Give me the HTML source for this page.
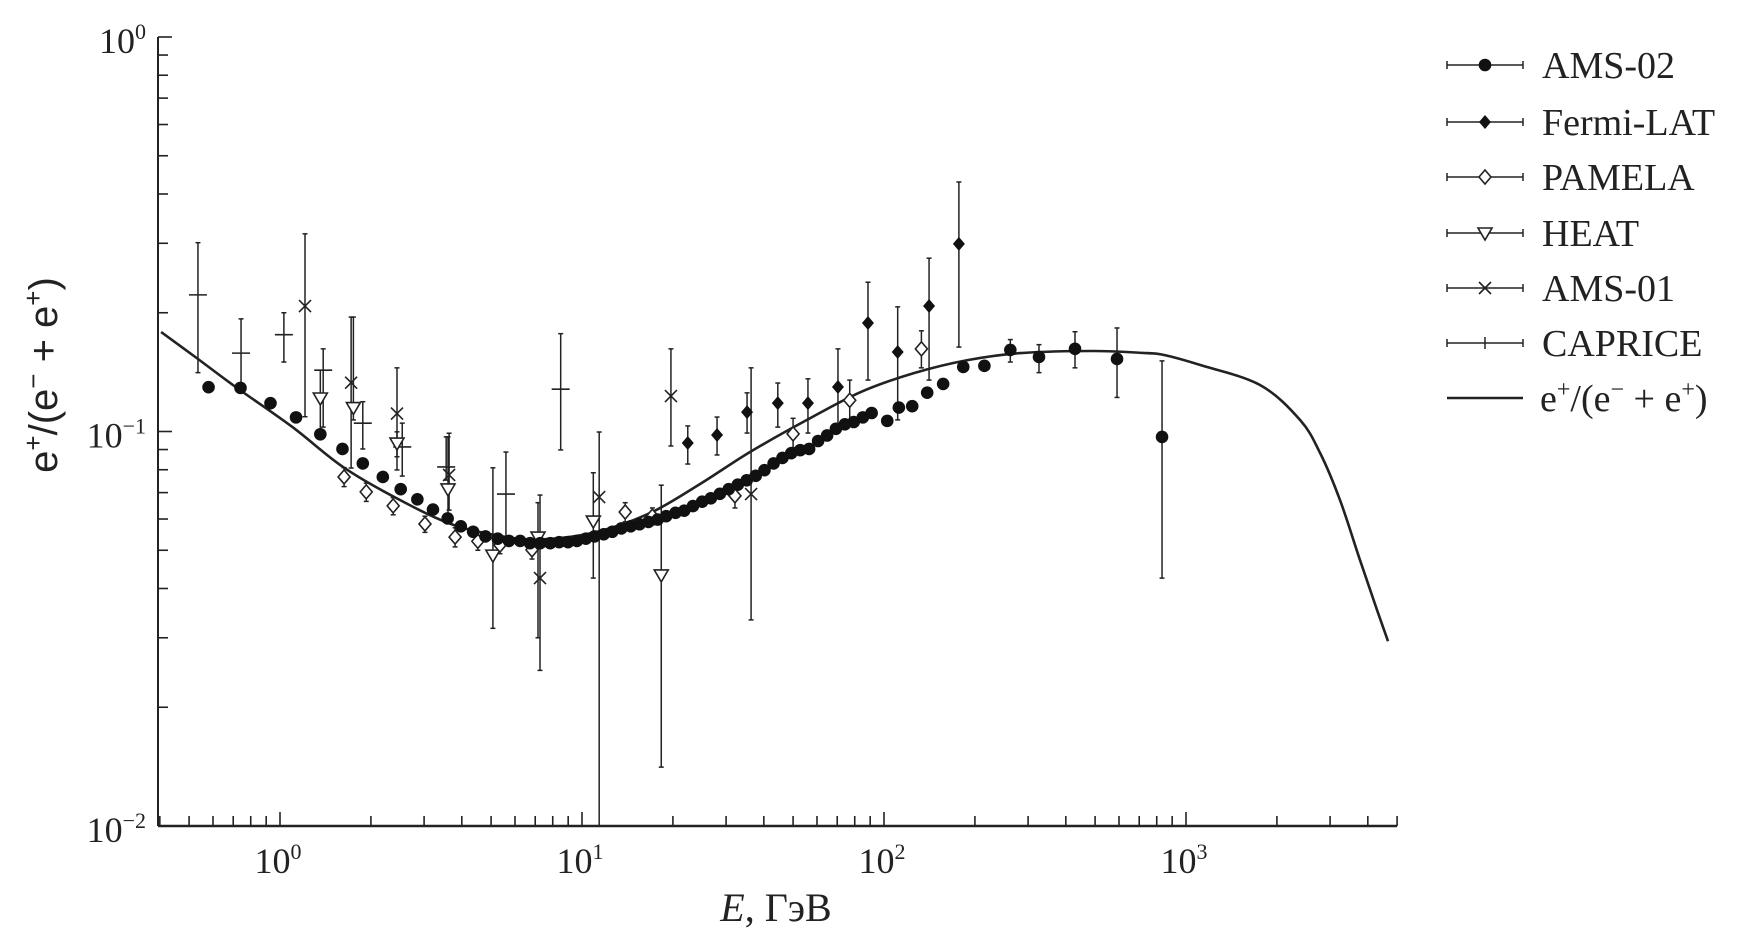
<!DOCTYPE html>
<html><head><meta charset="utf-8"><style>
html,body{margin:0;padding:0;background:#fff;}
svg{display:block;}
</style></head><body>
<svg id="chart" width="1760" height="932" viewBox="0 0 1760 932" xmlns="http://www.w3.org/2000/svg">
<g id="axes"></g>
<g id="marks"></g>
<g id="legend"></g>
</svg>
<script>
// ---- data ----
const ams02E = [0.58,0.74,0.93,1.13,1.36,1.61,1.88,2.19,2.51,2.85,3.21,3.59,3.97,4.36,4.79,5.26,5.73,6.24,6.73,7.27,7.85,8.40,8.99,9.62,10.3,11.0,11.8,12.6,13.5,14.5,15.5,16.6,17.8,19.0,20.4,21.8,23.3,25.0,26.7,28.6,30.6,32.8,35.1,37.6,40.2,43.1,46.1,49.3,52.8,56.5,60.5,64.8,69.3,74.2,79.4,85.1,91.0,102.5,112,124,139,157,183,215,262,326,429,591,833];
const ams02V = [0.1295,0.129,0.118,0.1086,0.0984,0.0903,0.083,0.0767,0.0714,0.0673,0.0634,0.0602,0.0575,0.0557,0.0542,0.0535,0.0528,0.0528,0.0521,0.0521,0.0521,0.0524,0.0524,0.0528,0.0535,0.0542,0.0549,0.0557,0.0568,0.0575,0.0582,0.059,0.0598,0.061,0.0622,0.063,0.0647,0.0664,0.0677,0.0695,0.0714,0.0733,0.0752,0.0772,0.0798,0.083,0.0857,0.0881,0.0897,0.0903,0.0946,0.0977,0.1016,0.1043,0.1057,0.1086,0.1114,0.1064,0.115,0.1159,0.1254,0.132,0.1458,0.1467,0.161,0.1545,0.162,0.1527,0.0969];
const ams02ErrE = [262,326,429,591,833];
const ams02ErrHi = [0.171,0.166,0.179,0.183,0.151];
const ams02ErrLo = [0.150,0.141,0.145,0.122,0.0425];

const fermiE = [22.4,28.0,35.2,44.5,56.0,70.4,88.5,111,141,177];
const fermiV = [0.0935,0.098,0.112,0.118,0.118,0.1297,0.1884,0.159,0.208,0.299];
const fermiHi = [0.1033,0.1088,0.1253,0.1327,0.136,0.162,0.239,0.207,0.275,0.429];
const fermiLo = [0.0827,0.0872,0.0991,0.1026,0.0991,0.1038,0.135,0.107,0.135,0.1637];

const pamelaE = [1.63,1.93,2.37,3.02,3.8,4.52,5.35,6.83,13.9,17.1,32.1,50,77,133];
const pamelaV = [0.0767,0.0703,0.0648,0.0583,0.054,0.0527,0.0515,0.0501,0.0625,0.061,0.0687,0.0986,0.120,0.162];
const pamelaHi = [0.081,0.074,0.068,0.061,0.057,0.0555,0.054,0.053,0.066,0.064,0.074,0.108,0.135,0.180];
const pamelaLo = [0.0725,0.0665,0.0615,0.0555,0.051,0.050,0.049,0.0475,0.059,0.058,0.064,0.091,0.107,0.145];

const heatE = [1.36,1.75,2.44,3.6,5.07,7.15,10.9,18.3];
const heatV = [0.1216,0.115,0.0935,0.0715,0.0486,0.054,0.0593,0.0433];
const heatHi = [0.143,0.195,0.0998,0.0969,0.0809,0.066,0.0786,0.0731];
const heatLo = [0.099,0.107,0.0863,0.0597,0.0317,0.030,0.0425,0.0141];

const ams01E = [1.21,1.72,2.44,3.63,7.26,11.4,19.7,36.3];
const ams01V = [0.208,0.133,0.111,0.0776,0.0425,0.0682,0.123,0.0694];
const ams01Hi = [0.317,0.195,0.145,0.099,0.069,0.0997,0.162,0.145];
const ams01Lo = [0.109,0.0808,0.0799,0.0632,0.0248,0.01,0.0919,0.0333];

const capriceE = [0.535,0.743,1.03,1.39,1.88,2.54,3.55,5.6,8.5];
const capriceV = [0.222,0.158,0.176,0.143,0.105,0.0914,0.0813,0.0694,0.128];
const capriceHi = [0.301,0.193,0.200,0.162,0.119,0.105,0.0969,0.0887,0.177];
const capriceLo = [0.141,0.127,0.150,0.1026,0.0903,0.0771,0.0753,0.0531,0.0898];

const modelE = [0.404,0.535,0.721,1.10,1.62,2.50,3.77,5.64,7.43,11.1,16.8,24.6,36.0,55.6,83.9,126,190,284,492,738,846,1112,1758,2385,2780,3236,3767,4290,4667];
const modelV = [0.1787,0.1527,0.1289,0.1026,0.0812,0.0670,0.0579,0.0540,0.0533,0.0556,0.0621,0.0736,0.0887,0.107,0.126,0.1407,0.1518,0.158,0.160,0.158,0.1563,0.1475,0.1312,0.107,0.0882,0.067,0.0472,0.0353,0.0294];

const xMajorExp = [0,1,2,3];
const yMajorExp = [0,-1,-2];
const legendLabels = ["AMS-02","Fermi-LAT","PAMELA","HEAT","AMS-01","CAPRICE"];

// ---- scales ----
const X0 = 280, XD = 302, Y0 = 37, YD = 394.5;
const AXL = 158, AXR = 1397, AXB = 826, AXT = 37;
function X(e){ return X0 + XD*Math.log10(e); }
function Y(v){ return Y0 - YD*Math.log10(v); }
const NS = "http://www.w3.org/2000/svg";
function mk(tag, attrs, parent){
  const el = document.createElementNS(NS, tag);
  for (const k in attrs) el.setAttribute(k, attrs[k]);
  parent.appendChild(el);
  return el;
}
const axes = document.getElementById('axes');
const marks = document.getElementById('marks');
const legend = document.getElementById('legend');
const INK = "#222";

let ln = mk('line',{x1:AXL,y1:AXT,x2:AXL,y2:AXB,stroke:INK,'stroke-width':2},axes);


ln = mk('line',{x1:AXL,y1:AXB,x2:AXR,y2:AXB,stroke:INK,'stroke-width':2.5},axes);



for (let d=-1; d<=3; d++){
  for (let m=1; m<=9; m++){
    const e = m*Math.pow(10,d);
    const x = X(e);
    if (x < AXL-0.5 || x > AXR+0.5) continue;
    const len = m===1 ? 14 : 10;
    const t = mk('line',{x1:x,y1:AXB,x2:x,y2:AXB-len,stroke:INK,'stroke-width':1.6},axes);
    
    
  }
}
xMajorExp.forEach(p=>{
  const x = X(Math.pow(10,p));
  const t = mk('text',{x:x-2,y:873,'text-anchor':'middle','font-family':'"Liberation Serif", serif','font-size':36,fill:INK},axes);
  
  
  t.appendChild(document.createTextNode('10'));
  const s = mk('tspan',{dy:-14,'font-size':22},t);
  s.textContent = String(p);
});
for (let d=-2; d<=0; d++){
  for (let m=1; m<=9; m++){
    const v = m*Math.pow(10,d);
    if (v>1.0001) continue;
    const y = Y(v);
    const len = m===1 ? 14 : 10;
    const t = mk('line',{x1:AXL,y1:y,x2:AXL+len,y2:y,stroke:INK,'stroke-width':1.6},axes);
    
    
  }
}
yMajorExp.forEach(p=>{
  const y = Y(Math.pow(10,p));
  const t = mk('text',{x:146,y:y+16,'text-anchor':'end','font-family':'"Liberation Serif", serif','font-size':36,fill:INK},axes);
  
  
  t.appendChild(document.createTextNode('10'));
  const s = mk('tspan',{dy:-14,'font-size':22},t);
  s.textContent = p===0 ? '0' : '\u2212'+(-p);
});
let tt = mk('text',{x:776,y:921,'text-anchor':'middle','font-family':'"Liberation Serif", serif','font-size':40,fill:INK},axes);


let ti = mk('tspan',{'font-style':'italic'},tt); ti.textContent='E';
let tr = mk('tspan',{},tt); tr.textContent=', ГэВ';

tt = mk('text',{x:0,y:0,'text-anchor':'middle','font-family':'"Liberation Sans", sans-serif','font-size':40,fill:INK,transform:'translate(57,375) rotate(-90)'},axes);


(function(){
  const parts = [['e',0,40],['+',-15,26],['/(e',15,40],['\u2212',-15,26],[' + e',15,40],['+',-15,26],[')',15,40]];
  parts.forEach(p=>{ const s = mk('tspan',{dy:p[1],'font-size':p[2]},tt); s.textContent=p[0]; });
})();

(function(){
  const pts = modelE.map((e,i)=>[X(e),Y(modelV[i])]);
  let d = 'M'+pts[0][0].toFixed(1)+','+pts[0][1].toFixed(1);
  for (let i=0;i<pts.length-1;i++){
    const p0 = pts[i-1]||pts[i], p1=pts[i], p2=pts[i+1], p3=pts[i+2]||p2;
    const c1=[p1[0]+(p2[0]-p0[0])/6, p1[1]+(p2[1]-p0[1])/6];
    const c2=[p2[0]-(p3[0]-p1[0])/6, p2[1]-(p3[1]-p1[1])/6];
    d += ' C'+c1[0].toFixed(1)+','+c1[1].toFixed(1)+' '+c2[0].toFixed(1)+','+c2[1].toFixed(1)+' '+p2[0].toFixed(1)+','+p2[1].toFixed(1);
  }
  const clip = mk('clipPath',{id:'plotclip'},document.getElementById('chart'));
  mk('rect',{x:AXL,y:0,width:AXR-AXL,height:AXB},clip);
  const path = mk('path',{d:d,fill:'none',stroke:INK,'stroke-width':2.6,'clip-path':'url(#plotclip)'},marks);
  
  
})();

function errBar(x, hi, lo, g){
  const y1 = Y(hi), y2 = Math.min(Y(lo), AXB);
  const l = mk('line',{x1:x,y1:y1,x2:x,y2:y2,stroke:INK,'stroke-width':1.5},g);
  
  
  mk('line',{x1:x-2.5,y1:y1,x2:x+2.5,y2:y1,stroke:INK,'stroke-width':1.5},g);
  if (Y(lo) < AXB) mk('line',{x1:x-2.5,y1:y2,x2:x+2.5,y2:y2,stroke:INK,'stroke-width':1.5},g);
}
function marker(type, x, y, g){
  let el;
  if (type==='circle') el = mk('circle',{cx:x,cy:y,r:6.3,fill:'#111'},g);
  else if (type==='fdiamond') el = mk('path',{d:`M${x},${y-7} L${x+6},${y} L${x},${y+7} L${x-6},${y} Z`,fill:'#111'},g);
  else if (type==='odiamond') el = mk('path',{d:`M${x},${y-7} L${x+6},${y} L${x},${y+7} L${x-6},${y} Z`,fill:'#fff',stroke:INK,'stroke-width':1.6},g);
  else if (type==='tri') el = mk('path',{d:`M${x-7},${y-5} L${x+7},${y-5} L${x},${y+7} Z`,fill:'#fff',stroke:INK,'stroke-width':1.6},g);
  else if (type==='cross') el = mk('path',{d:`M${x-6},${y-6} L${x+6},${y+6} M${x-6},${y+6} L${x+6},${y-6}`,stroke:INK,'stroke-width':1.6,fill:'none'},g);
  else if (type==='plus') el = mk('line',{x1:x-9,y1:y,x2:x+9,y2:y,stroke:INK,'stroke-width':1.6},g);
  return el;
}
function series(name, type, E, V, Hi, Lo){
  const g = mk('g',{},marks);
  
  
  E.forEach((e,i)=>{ if (Hi && Lo) errBar(X(e), Hi[i], Lo[i], g); });
  E.forEach((e,i)=>{
    const m = marker(type, X(e), Y(V[i]), g);
    
    
  });
}
series('caprice','plus',capriceE,capriceV,capriceHi,capriceLo);
series('ams-01','cross',ams01E,ams01V,ams01Hi,ams01Lo);
series('heat','tri',heatE,heatV,heatHi,heatLo);
series('pamela','odiamond',pamelaE,pamelaV,pamelaHi,pamelaLo);
series('fermi-lat','fdiamond',fermiE,fermiV,fermiHi,fermiLo);
(function(){
  const g = mk('g',{},marks);
  
  
  ams02ErrE.forEach((e,i)=>errBar(X(e), ams02ErrHi[i], ams02ErrLo[i], g));
})();
series('ams-02','circle',ams02E,ams02V,null,null);

const legTypes = ['circle','fdiamond','odiamond','tri','cross','plus'];
const legRowY = [65,122,177,233,288,343,398];
legendLabels.concat(['model']).forEach((lab,i)=>{
  const y = legRowY[i];
  const g = mk('g',{},legend);
  
  
  if (i < 6){
    mk('line',{x1:1447,y1:y,x2:1523,y2:y,stroke:INK,'stroke-width':1.5},g);
    mk('line',{x1:1447,y1:y-4,x2:1447,y2:y+4,stroke:INK,'stroke-width':1.5},g);
    mk('line',{x1:1523,y1:y-4,x2:1523,y2:y+4,stroke:INK,'stroke-width':1.5},g);
    if (legTypes[i]==='plus') mk('line',{x1:1485,y1:y-6,x2:1485,y2:y+6,stroke:INK,'stroke-width':1.5},g);
    else marker(legTypes[i],1485,y,g);
    const t = mk('text',{x:1542,y:y+13,'font-family':'"Liberation Serif", serif','font-size':38,fill:INK},g);
    t.textContent = lab;
  } else {
    mk('line',{x1:1447,y1:y,x2:1523,y2:y,stroke:INK,'stroke-width':2.6},g);
    const t = mk('text',{x:1540,y:y+13,'font-family':'"Liberation Serif", serif','font-size':38,fill:INK},g);
    const parts=[['e',0,38],['+',-14,24],['/(e',14,38],['\u2212',-14,24],[' + e',14,38],['+',-14,24],[')',14,38]];
    parts.forEach(p=>{ const s=mk('tspan',{dy:p[1],'font-size':p[2]},t); s.textContent=p[0]; });
  }
});
</script>
</body></html>
